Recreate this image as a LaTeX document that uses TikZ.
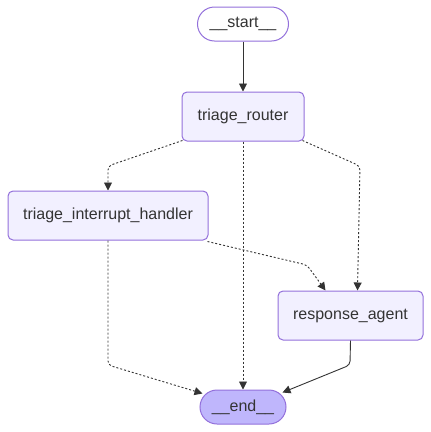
\documentclass[tikz,border=0pt]{standalone}
\usepackage{fontspec}
\setmainfont{Liberation Sans}
\usetikzlibrary{arrows.meta}
\usetikzlibrary{positioning}
\definecolor{nodefill}{HTML}{F2F0FF}
\definecolor{nodeline}{HTML}{9370DB}
\definecolor{endfill}{HTML}{BFB6FC}
\definecolor{ink}{HTML}{333333}
\tikzset{
  graphnode/.style={draw=nodeline, fill=nodefill, rounded corners=5pt, line width=1pt,
    text=ink, font=\fontsize{16}{19}\selectfont, minimum height=49pt, inner sep=0pt},
  termnode/.style={graphnode, rounded corners=17pt, minimum height=34pt},
  flowline/.style={draw=ink, line width=0.9pt, -{Triangle[length=8pt,width=8pt]}, rounded corners=4pt},
  flowdot/.style={flowline, dash pattern=on 2pt off 2pt},
}

\begin{document}
\begin{tikzpicture}[x=1pt, y=-1pt]
      \useasboundingbox (0,0) rectangle (431,432);
      % nodes
      \node[termnode, fill=white, minimum width=91pt] (start) at (243,24) {\_\_start\_\_};
      \node[graphnode, minimum width=122pt] (router) at (243,116.5) {triage\_router};
      \node[graphnode, minimum width=200pt] (handler) at (108,215.5) {triage\_interrupt\_handler};
      \node[graphnode, minimum width=145pt] (agent) at (350.5,315.5) {response\_agent};
      \node[termnode, fill=endfill, minimum width=86pt] (end) at (243,407) {\_\_end\_\_};

      % edges
      \draw[flowline] (start) -- (router);
      \draw[flowdot] ([xshift=1pt,yshift=1pt]router.south west) -- (108,166) -- (handler.north);
      \draw[flowdot] (router) -- (end);
      \draw[flowdot] ([xshift=-2pt,yshift=1pt]router.south east) -- (360,166) -- ([xshift=7pt]agent.north);
      \draw[flowdot] ([xshift=-1pt,yshift=-1pt]handler.south east) -- (307,265) -- ([xshift=-25pt]agent.north);
      \draw[flowdot] (handler.south) -- (108,365) -- ([xshift=3pt,yshift=-4pt]end.north west);
      \draw[flowline] (agent.south) -- (350,365) -- ([xshift=-4pt,yshift=-3pt]end.north east);
\end{tikzpicture}
\end{document}
